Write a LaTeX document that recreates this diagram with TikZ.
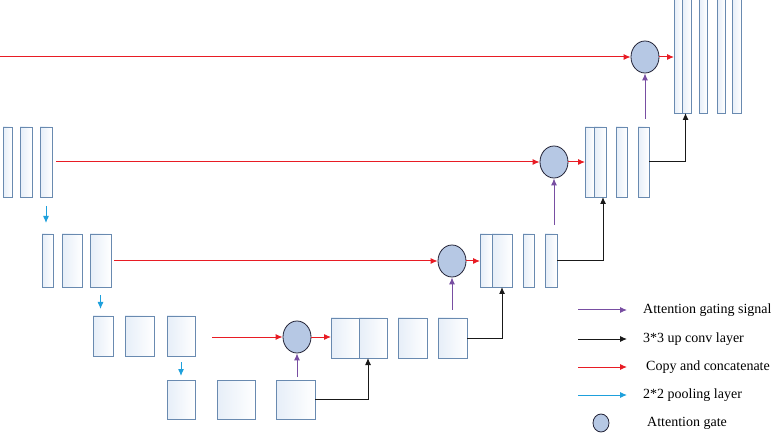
\documentclass[tikz,border=0pt]{standalone}
\usepackage{fontspec}
\setmainfont{Liberation Serif}
\usetikzlibrary{arrows.meta,calc,fit,shapes.geometric}
\definecolor{boxline}{RGB}{105,138,176}
\definecolor{boxtop}{RGB}{230,238,248}
\definecolor{agfill}{RGB}{182,200,228}
\definecolor{agline}{RGB}{35,35,55}
\definecolor{cred}{RGB}{232,28,36}
\definecolor{cpurple}{RGB}{120,78,162}
\definecolor{ccyan}{RGB}{30,160,220}
\definecolor{cblack}{RGB}{25,25,25}
\begin{document}
\begin{tikzpicture}[x=1pt,y=-1pt,
  box/.style={draw=boxline, line width=0.8pt, left color=boxtop, right color=white, inner sep=0pt, outer sep=0pt},
  ag/.style={ellipse, draw=agline, line width=0.8pt, fill=agfill, minimum width=28pt, minimum height=32pt, inner sep=0pt},
  tip/.style={-{Latex[length=7pt,width=6pt]}},
  redarr/.style={tip, draw=cred, line width=1pt},
  purarr/.style={tip, draw=cpurple, line width=1pt},
  blkarr/.style={tip, draw=cblack, line width=1pt},
  cyanarr/.style={tip, draw=ccyan, line width=1pt},
  legtext/.style={anchor=west, inner sep=0pt, font=\fontsize{14}{16}\selectfont}
]
\clip (0,0) rectangle (771,438);
\fill[white] (0,0) rectangle (771,438);

% level A (left)
\node[box,fit={(3,127)(12,197)}] (a1) {};
\node[box,fit={(20,127)(32,197)}] (a2) {};
\node[box,fit={(40,127)(52,197)}] (a3) {};
% level B (left)
\node[box,fit={(42,234)(53,287)}] (b1) {};
\node[box,fit={(62,234)(82,287)}] (b2) {};
\node[box,fit={(90,234)(111,287)}] (b3) {};
% level C (left)
\node[box,fit={(93,316)(113,356)}] (c1) {};
\node[box,fit={(125,316)(154,356)}] (c2) {};
\node[box,fit={(167,316)(195,356)}] (c3) {};
% level D (bottom)
\node[box,fit={(167,380)(195,419)}] (d1) {};
\node[box,fit={(217,380)(255,419)}] (d2) {};
\node[box,fit={(276,380)(315,419)}] (d3) {};
% level C (right)
\node[box,fit={(331,318)(359,358)}] (rC1) {};
\node[box,fit={(359,318)(387,358)}] (rC2) {};
\node[box,fit={(398,318)(427,358)}] (rC3) {};
\node[box,fit={(438,318)(467,358)}] (rC4) {};
% level B (right)
\node[box,fit={(480,234)(492,287)}] (rB1) {};
\node[box,fit={(492,234)(512,287)}] (rB2) {};
\node[box,fit={(523,234)(534,287)}] (rB3) {};
\node[box,fit={(545,234)(557,287)}] (rB4) {};
% level A (right)
\node[box,fit={(585,127)(594,197)}] (rA1) {};
\node[box,fit={(594,127)(606,197)}] (rA2) {};
\node[box,fit={(616,127)(627,197)}] (rA3) {};
\node[box,fit={(638,127)(649,197)}] (rA4) {};
% top (right)
\node[box,fit={(674,-3)(682,113)}] (rT1) {};
\node[box,fit={(682,-3)(691,113)}] (rT2) {};
\node[box,fit={(699,-3)(707,113)}] (rT3) {};
\node[box,fit={(717,-3)(725,113)}] (rT4) {};
\node[box,fit={(732,-3)(741,113)}] (rT5) {};

% attention gates
\node[ag] (agT) at (645,57) {};
\node[ag] (agA) at (554,162) {};
\node[ag] (agB) at (452,261) {};
\node[ag] (agC) at (297,337) {};

% copy and concatenate
\coordinate (topstart) at (0,57);
\draw[redarr] (topstart) -- (agT.west);
\draw[redarr] (agT.east) -- (agT.east -| rT1.west);
\draw[redarr, shorten <=4pt] (a3.east |- agA.west) -- (agA.west);
\draw[redarr] (agA.east) -- (agA.east -| rA1.west);
\draw[redarr, shorten <=3pt] (b3.east |- agB.west) -- (agB.west);
\draw[redarr] (agB.east) -- (agB.east -| rB1.west);
\draw[redarr, shorten <=17pt] (c3.east |- agC.west) -- (agC.west);
\draw[redarr] (agC.east) -- (agC.east -| rC1.west);

% attention gating signals
\draw[purarr, shorten <=3pt] (agC.south |- d3.north) -- (agC.south);
\draw[purarr, shorten <=8pt] (agB.south |- rC4.north) -- (agB.south);
\draw[purarr, shorten <=9pt] (agA.south |- rB4.north) -- (agA.south);
\draw[purarr, shorten <=8pt] (agT.south |- rA4.north) -- (agT.south);

% up conv
\draw[blkarr] (d3.east) -| ([xshift=-5pt]rC2.south);
\draw[blkarr] (rC4.east) -| (rB2.south);
\draw[blkarr] (rB4.east) -| ([xshift=3pt]rA2.south);
\draw[blkarr] (rA4.east) -| ([xshift=-1pt]rT2.south);

% pooling
\draw[cyanarr, shorten <=9pt, shorten >=11pt] (a3.south) -- (a3.south |- b1.north);
\draw[cyanarr, shorten <=8pt, shorten >=7pt] (b3.south) -- (b3.south |- c1.north);
\draw[cyanarr, shorten <=6pt, shorten >=4pt] (c3.south) -- (c3.south |- d1.north);

% legend
\coordinate (l1s) at (578,310); \coordinate (l1e) at (627,310);
\coordinate (l2s) at (578,339); \coordinate (l2e) at (627,339);
\coordinate (l3s) at (578,367); \coordinate (l3e) at (627,367);
\coordinate (l4s) at (578,395); \coordinate (l4e) at (627,395);
\draw[purarr] (l1s) -- (l1e);
\draw[blkarr] (l2s) -- (l2e);
\draw[redarr] (l3s) -- (l3e);
\draw[cyanarr] (l4s) -- (l4e);
\node[ag, minimum width=16pt, minimum height=18pt] (lag) at (601,423) {};
\node[legtext] (t1) at (643,310) {Attention gating signal};
\node[legtext] (t2) at (643,339) {3*3 up conv layer};
\node[legtext] (t3) at (646,367) {Copy and concatenate};
\node[legtext] (t4) at (643,395) {2*2 pooling layer};
\node[legtext] (t5) at (647,423) {Attention gate};
\end{tikzpicture}
\end{document}
